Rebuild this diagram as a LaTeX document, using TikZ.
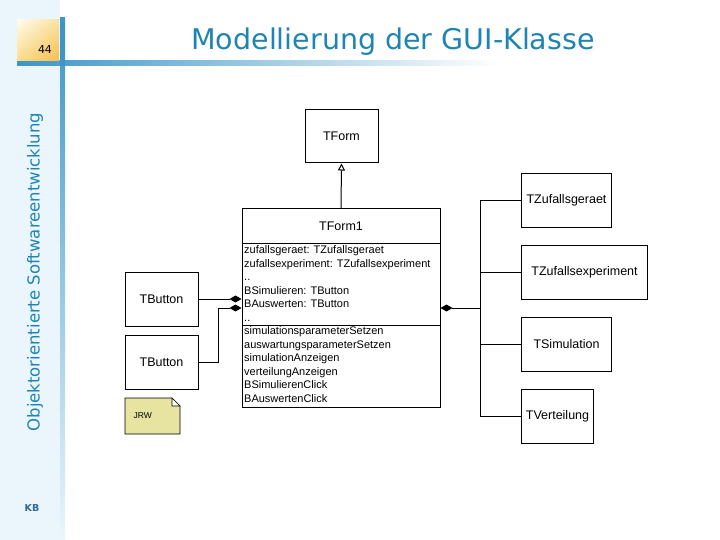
\documentclass[tikz,border=0pt]{standalone}
\usepackage{fontspec}
\setmainfont{Liberation Sans}
\newfontfamily\slidefont{DejaVu Sans}
\usetikzlibrary{arrows.meta,shadings}

\definecolor{titleblue}{RGB}{30,132,180}
\definecolor{barblue}{RGB}{60,150,200}
\definecolor{sidebg}{RGB}{234,246,252}
\definecolor{notefill}{RGB}{230,228,160}
\definecolor{kbblue}{RGB}{45,105,150}
\definecolor{pageA}{RGB}{255,251,236}
\definecolor{pageB}{RGB}{250,226,160}
\definecolor{pageC}{RGB}{250,220,140}
\definecolor{pageD}{RGB}{245,190,80}

\begin{document}
\begin{tikzpicture}[x=1pt,y=-1pt,
    cls/.style={draw, line width=1pt, fill=white, inner sep=0pt,
        minimum height=54pt, font=\fontsize{12.5}{14}\selectfont},
    member/.style={anchor=west, inner sep=0pt, text height=8pt, text depth=2.5pt,
        font=\fontsize{11}{13}\selectfont},
    comp/.style={line width=1pt, {Diamond[length=12pt,width=7pt]}-},
    inherit/.style={line width=1pt, -{Triangle[open,length=7pt,width=7pt,fill=white]}}]

    \useasboundingbox (0,0) rectangle (720,540);
    \fill[white] (0,0) rectangle (720,540);
    \fill[sidebg] (0,0) rectangle (60,540);

    % slide frame
    \shade[top color=barblue, bottom color=sidebg] (60,18) rectangle (65,540);
    \shade[left color=barblue, right color=white] (17,61) rectangle (500,66);
    \fill[barblue] (60,18) rectangle (65,66);
    \shade[upper left=pageA, upper right=pageB, lower left=pageC, lower right=pageD]
        (17,20) rectangle (59,61);
    \node[font=\slidefont\fontsize{11}{13}\selectfont] (page) at (45,49) {44};
    \node[anchor=base, text=titleblue, font=\slidefont\fontsize{28.5}{33}\selectfont] (title) at (393,50) {Modellierung der GUI-Klasse};
    \node[rotate=90, text=titleblue, font=\slidefont\fontsize{16.5}{19}\selectfont] (side) at (35,272) {Objektorientierte Softwareentwicklung};
    \node[text=kbblue, font=\slidefont\bfseries\fontsize{9.5}{11}\selectfont] (kb) at (32,508) {KB};

    % classes
    \node[cls, minimum width=73pt, minimum height=53pt] (tform) at (341.5,136.5) {TForm};
    \node[cls, minimum width=198pt, minimum height=198pt] (tform1) at (341,308) {};
    \node[font=\fontsize{12.5}{14}\selectfont] (name) at (341,226) {TForm1};
    \draw[line width=1pt] (242,243) -- (440,243);
    \draw[line width=1pt] (242,325) -- (440,325);
    \foreach \t [count=\i] in {zufallsgeraet: TZufallsgeraet, zufallsexperiment: TZufallsexperiment,
        .., BSimulieren: TButton, BAuswerten: TButton, ..}
        \node[member] (attr\i) at (244,237.5+13.5*\i) {\t};
    \foreach \t [count=\i] in {simulationsparameterSetzen, auswartungsparameterSetzen,
        simulationAnzeigen, verteilungAnzeigen, BSimulierenClick, BAuswertenClick}
        \node[member] (op\i) at (244,318.5+13.5*\i) {\t};

    \node[cls, minimum width=73pt] (btnA) at (161.5,299) {TButton};
    \node[cls, minimum width=73pt] (btnB) at (161.5,362) {TButton};

    \node[cls, anchor=north west, minimum width=90pt] (zg) at (521,173) {TZufallsgeraet};
    \node[cls, anchor=north west, minimum width=126pt] (ze) at (521,245) {TZufallsexperiment};
    \node[cls, anchor=north west, minimum width=90pt] (si) at (521,317) {TSimulation};
    \node[cls, anchor=north west, minimum width=72pt] (vt) at (521,389) {TVerteilung};

    % note
    \draw[line width=0.6pt, fill=notefill] (125,398) -- (172,398) -- (180,406) -- (180,434) -- (125,434) -- cycle;
    \draw[line width=0.6pt, fill=white] (172,398) -- (172,406) -- (180,406) -- cycle;
    \node[anchor=west, font=\fontsize{8.5}{10}\selectfont] (note) at (130,416) {JRW};

    % connectors
    \draw[inherit] (tform1.north) -- (tform.south);
    \draw[comp] (tform1.west |- btnA.east) -- (btnA.east);
    \draw[comp] (tform1.west) -| ([xshift=20pt]btnB.east) -- (btnB.east);
    \coordinate (jct) at (480,308);
    \draw[comp] (tform1.east) -- (jct);
    \draw[line width=1pt] (zg.west) -- (zg.west -| jct) -- (vt.west -| jct) -- (vt.west);
    \draw[line width=1pt] (ze.west) -- (ze.west -| jct);
    \draw[line width=1pt] (si.west) -- (si.west -| jct);

\end{tikzpicture}
\end{document}
